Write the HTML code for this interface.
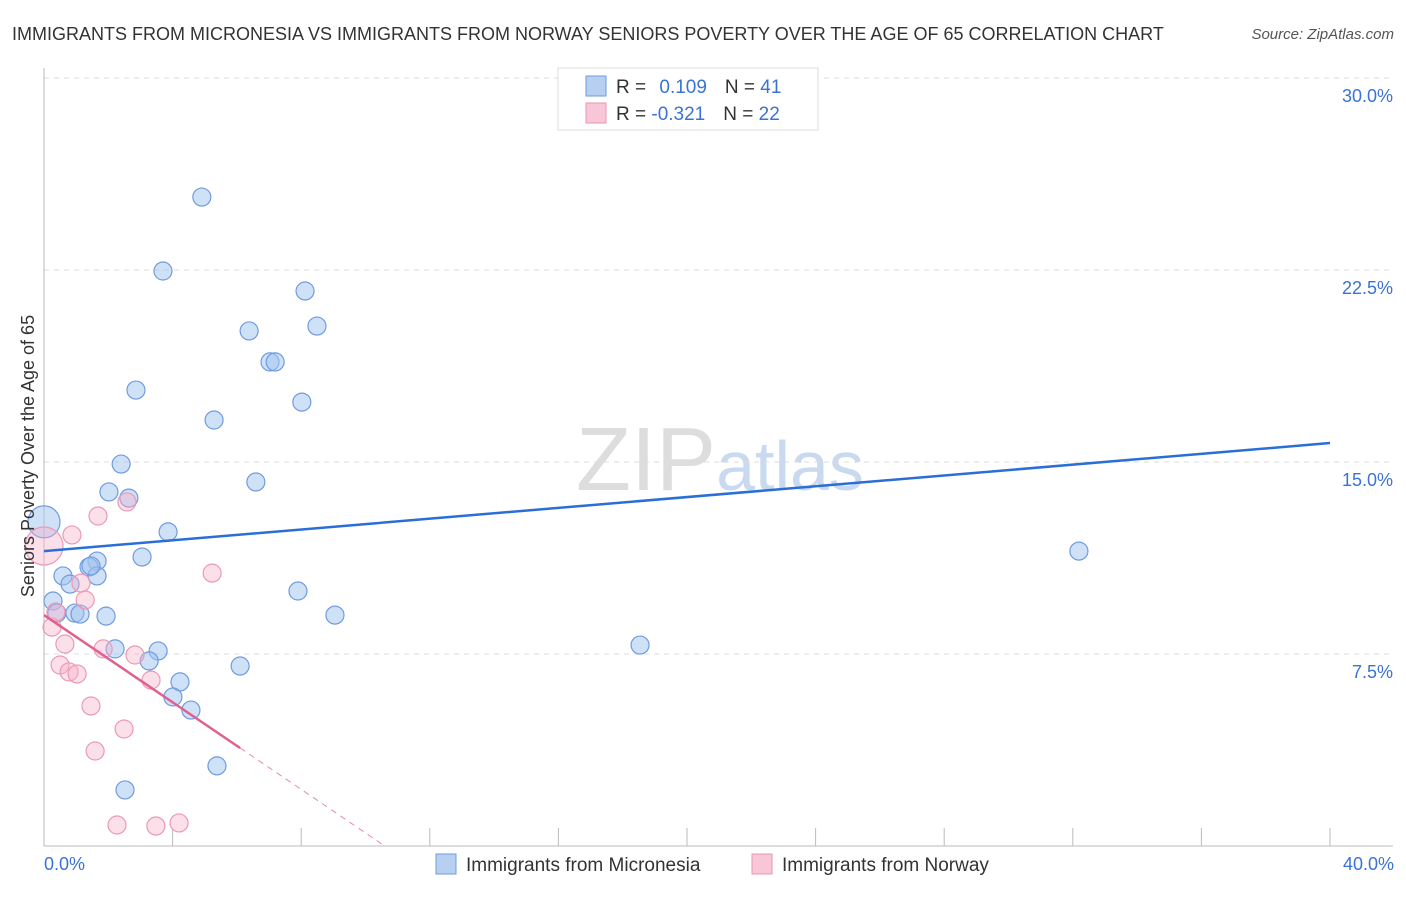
<!DOCTYPE html>
<html><head><meta charset="utf-8"><style>
body{margin:0;background:#fff;font-family:"Liberation Sans",sans-serif;}
svg text{font-family:"Liberation Sans",sans-serif;}
</style></head><body>
<svg width="1406" height="892" xmlns="http://www.w3.org/2000/svg">
<text x="12" y="40" font-size="18" fill="#333">IMMIGRANTS FROM MICRONESIA VS IMMIGRANTS FROM NORWAY SENIORS POVERTY OVER THE AGE OF 65 CORRELATION CHART</text>
<text x="1394" y="39" font-size="15" fill="#555" font-style="italic" text-anchor="end">Source: ZipAtlas.com</text>
<text x="720" y="490" font-size="90" fill="#ddd" text-anchor="middle" font-family="Liberation Serif">ZIP<tspan fill="#c9d9ef" font-family="Liberation Sans" font-size="70">atlas</tspan></text>
<g id="grid"></g><g id="axes"></g><g id="marks"></g>
<text transform="translate(34,456) rotate(-90)" font-size="18" fill="#333" text-anchor="middle">Seniors Poverty Over the Age of 65</text>
<text x="44" y="870" font-size="18" fill="#3b73d4">0.0%</text>
<text x="1394" y="870" font-size="18" fill="#3b73d4" text-anchor="end">40.0%</text>
<g>
<rect x="558" y="68" width="260" height="62" fill="#fff" stroke="#ddd"/>
<rect x="586" y="76" width="20" height="20" fill="#b7d0f2" stroke="#6f9be0"/>
<rect x="586" y="103" width="20" height="20" fill="#f8c6d6" stroke="#e996b0"/>
<text x="616" y="93" font-size="19" fill="#333">R = <tspan fill="#3b73d4" dx="8">0.109</tspan><tspan dx="18" fill="#333">N = </tspan><tspan fill="#3b73d4">41</tspan></text>
<text x="616" y="120" font-size="19" fill="#333">R = <tspan fill="#3b73d4">-0.321</tspan><tspan dx="18" fill="#333">N = </tspan><tspan fill="#3b73d4">22</tspan></text>
</g>
<g>
<rect x="436" y="854" width="20" height="20" fill="#b7d0f2" stroke="#6f9be0"/>
<text x="466" y="871" font-size="19" fill="#333">Immigrants from Micronesia</text>
<rect x="752" y="854" width="20" height="20" fill="#f8c6d6" stroke="#e996b0"/>
<text x="782" y="871" font-size="19" fill="#333">Immigrants from Norway</text>
</g>
</svg>
<script>
const yTicks=[7.5,15,22.5,30];
const yTickLabels=["7.5%","15.0%","22.5%","30.0%"];
const xTicks=[4,8,12,16,20,24,28,32,36,40];
const blueX=[4.91,3.70,8.12,6.38,8.49,7.03,7.19,2.86,8.02,5.29,2.40,6.59,2.02,2.64,3.86,3.05,1.65,0.59,1.40,1.65,0.81,0.28,0.40,0.96,1.12,1.93,2.21,3.55,3.27,6.10,4.23,4.01,4.57,5.38,2.52,7.90,9.05,18.54,32.19,0,1.46];
const blueY=[25.35,22.46,21.68,20.12,20.31,18.91,18.91,17.81,17.34,16.64,14.92,14.22,13.83,13.59,12.27,11.29,11.13,10.55,10.90,10.55,10.23,9.57,9.10,9.10,9.06,8.98,7.70,7.62,7.23,7.03,6.41,5.82,5.31,3.13,2.19,9.96,9.02,7.85,11.52,12.66,10.94];
const pinkX=[0,0.25,1.15,0.87,1.68,2.58,1.28,0.65,0.50,0.78,1.03,1.84,2.83,3.33,5.23,1.46,2.49,1.59,2.27,3.48,4.20,0.37];
const pinkY=[11.72,8.55,10.27,12.15,12.89,13.44,9.61,7.89,7.07,6.80,6.72,7.70,7.46,6.48,10.66,5.47,4.57,3.71,0.82,0.78,0.90,9.14];
const blueLine=[11.52,15.74];
const pinkLine=[9.02,-0.851];
const NS="http://www.w3.org/2000/svg";
const sx=v=>44+v*32.15, sy=v=>846-v*25.6;
function mk(t,a,p){const e=document.createElementNS(NS,t);for(const k in a)e.setAttribute(k,a[k]);document.getElementById(p).appendChild(e);return e;}
yTicks.forEach((t,i)=>{
 const l=mk('line',{x1:44,x2:1393,y1:sy(t),y2:sy(t),stroke:'#ddd','stroke-dasharray':'5,5'},'grid');
 
 
 const tx=mk('text',{x:1393,y:sy(t)+24,'font-size':18,fill:'#3b73d4','text-anchor':'end'},'grid');
 tx.textContent=yTickLabels[i];
 
 
});
const ax=mk('line',{x1:44,x2:44,y1:68,y2:846,stroke:'#bbb'},'axes');


const bx=mk('line',{x1:44,x2:1393,y1:846,y2:846,stroke:'#bbb'},'axes');


xTicks.forEach(t=>{
 const l=mk('line',{x1:sx(t),x2:sx(t),y1:828,y2:846,stroke:'#bbb'},'axes');
 
 
});
blueX.forEach((x,i)=>{
 const big=(x===0&&blueY[i]>12);
 const c=mk('circle',{cx:sx(x),cy:sy(blueY[i]),r:big?16:9,fill:'rgba(160,195,240,0.5)',stroke:'#6f9be0','stroke-width':1.2},'marks');
 
 
});
pinkX.forEach((x,i)=>{
 const big=(x===0);
 const c=mk('circle',{cx:sx(x),cy:sy(pinkY[i]),r:big?19:9,fill:'rgba(245,175,200,0.4)',stroke:'#ec9ab4','stroke-width':1.2},'marks');
 
 
});
const bl=mk('line',{x1:sx(0),y1:sy(blueLine[0]),x2:sx(40),y2:sy(blueLine[1]),stroke:'#2a6fd6','stroke-width':2.5},'marks');


const pEnd=6.1, pZero=-pinkLine[0]/pinkLine[1];
const pl=mk('line',{x1:sx(0),y1:sy(pinkLine[0]),x2:sx(pEnd),y2:sy(pinkLine[0]+pinkLine[1]*pEnd),stroke:'#e0608e','stroke-width':2.5},'marks');


const pd=mk('line',{x1:sx(pEnd),y1:sy(pinkLine[0]+pinkLine[1]*pEnd),x2:sx(pZero),y2:sy(0),stroke:'#e68aa8','stroke-width':1,'stroke-dasharray':'6,5'},'marks');


</script>
</body></html>
